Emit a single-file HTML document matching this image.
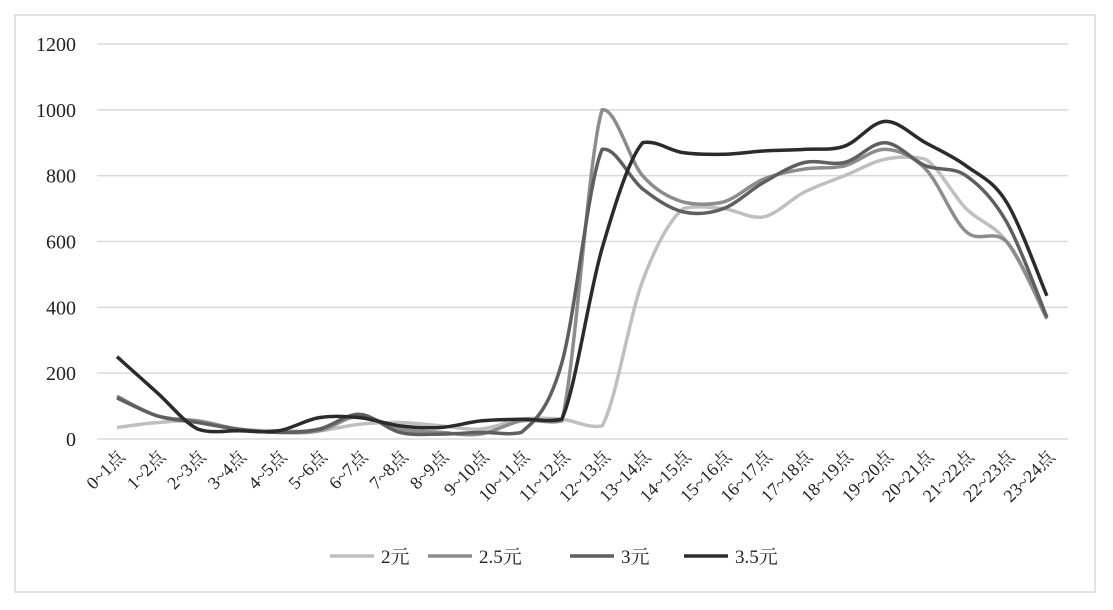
<!DOCTYPE html><html><head><meta charset="utf-8"><style>body{margin:0;background:#fff}</style></head><body>
<svg id="s" width="1113" height="605" xmlns="http://www.w3.org/2000/svg" font-family="'Liberation Serif','Noto Serif CJK SC',serif">
<rect x="15" y="15" width="1080" height="577" fill="#fff" stroke="#d9d9d9" stroke-width="1.5"/>
<g id="g"></g>
</svg>
<script>
var g=document.getElementById('g'),h='';
function Y(v){return 439-v*395/1200}
for(var i=0;i<=6;i++){var y=Y(i*200);h+='<line x1="97" x2="1068" y1="'+y+'" y2="'+y+'" stroke="#d9d9d9" stroke-width="1.5"/><text x="76" y="'+(y+7)+'" font-size="20" text-anchor="end" fill="#222">'+(i*200)+'</text>';}
function X(i){return 117+40.43*i}
for(var i=0;i<24;i++){var x=X(i)+9;h+='<text transform="translate('+x+',458) rotate(-45)" font-size="18" text-anchor="end" fill="#222">'+i+'~'+(i+1)+'点</text>';}
var S=[["#bfbfbf",[35,50,55,30,25,25,45,50,40,30,60,60,40,480,700,700,675,750,800,850,850,700,600,370]],
["#8c8c8c",[130,70,55,30,20,25,70,30,20,15,55,55,1000,800,720,720,790,820,830,880,820,630,600,365]],
["#5f5f5f",[125,70,50,30,20,30,75,20,15,20,20,230,880,760,690,700,780,840,840,900,830,800,660,370]],
["#2b2b2b",[250,140,30,25,25,65,65,40,35,55,60,60,580,900,870,865,875,880,890,965,900,830,720,435]]];
function cl(v,a,b){var lo=Math.min(a,b)-3,hi=Math.max(a,b)+3;return Math.max(lo,Math.min(hi,v))}
S.forEach(function(s){var p=s[1].map(function(v,i){return [X(i),Y(v)]});var d='M'+p[0];
for(var i=0;i<p.length-1;i++){var a=p[Math.max(0,i-1)],b=p[i],c=p[i+1],e=p[Math.min(p.length-1,i+2)];
var y1=cl(b[1]+(c[1]-a[1])/6,b[1],c[1]),y2=cl(c[1]-(e[1]-b[1])/6,b[1],c[1]);
d+='C'+(b[0]+(c[0]-a[0])/6)+','+y1+' '+(c[0]-(e[0]-b[0])/6)+','+y2+' '+c[0]+','+c[1];}
h+='<path d="'+d+'" fill="none" stroke="'+s[0]+'" stroke-width="3.5"/>';});
var L=[[330,"2元"],[428,"2.5元"],[570,"3元"],[684,"3.5元"]];
L.forEach(function(l,i){h+='<line x1="'+l[0]+'" x2="'+(l[0]+44)+'" y1="556" y2="556" stroke="'+S[i][0]+'" stroke-width="3.5"/><text x="'+(l[0]+51)+'" y="563" font-size="19" fill="#222">'+l[1]+'</text>';});
g.innerHTML=h;
</script>
</body></html>
